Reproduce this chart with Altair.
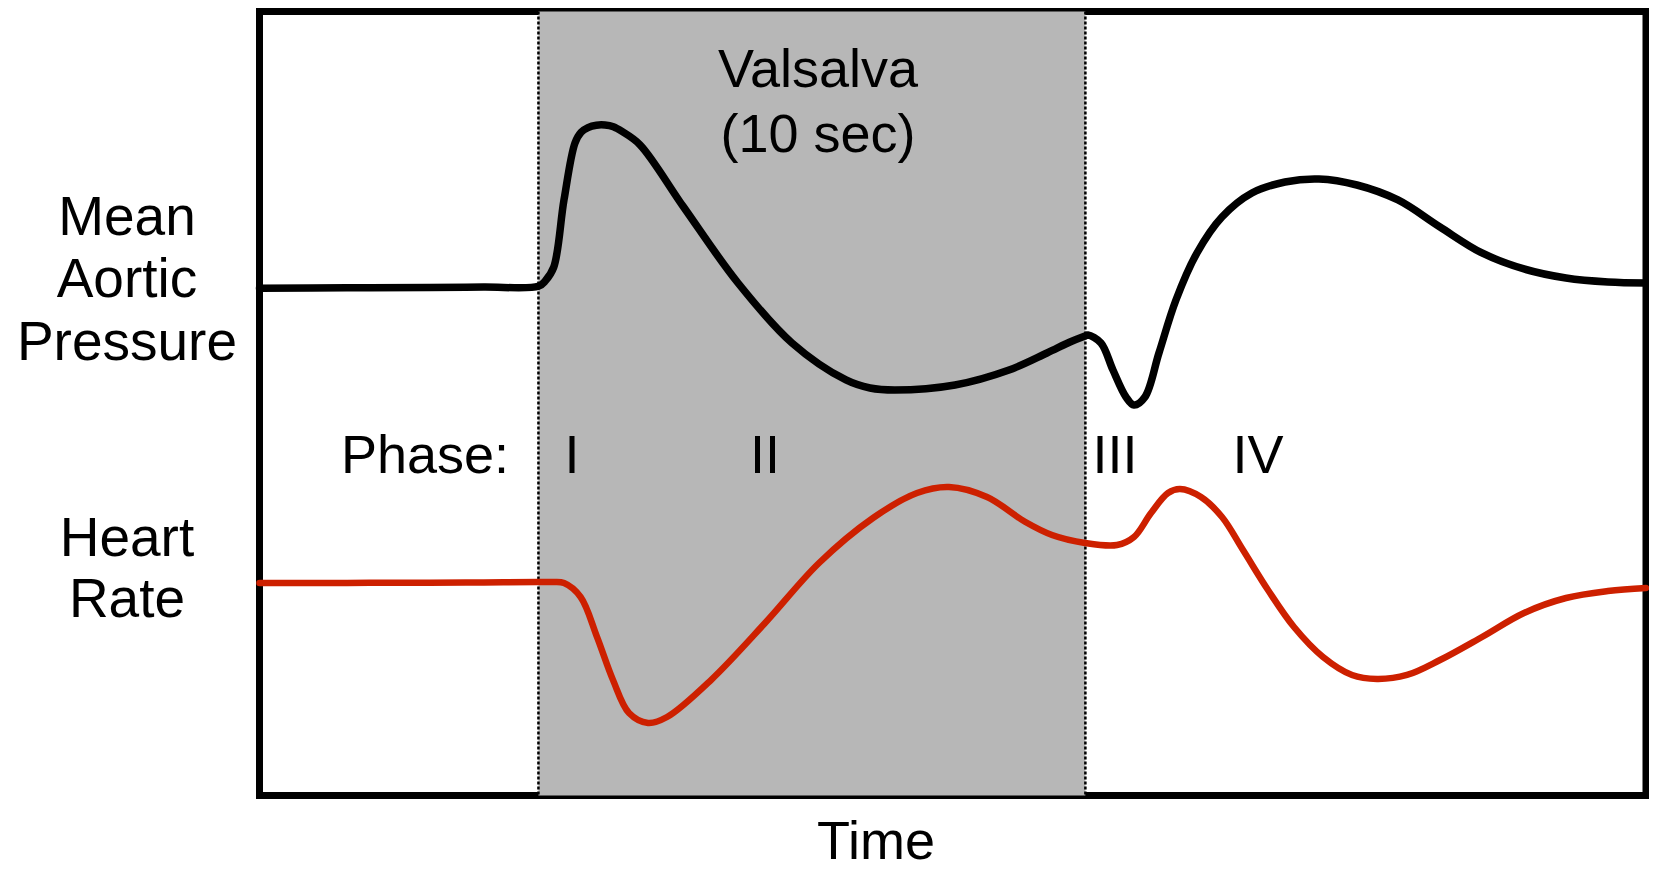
import altair as alt
import pandas as pd

# Time axis in seconds (Valsalva manoeuvre from 0 to 10 s); levels in relative units (0-100)
black_t = [-5.1, -3.5, -2.0, -1.0, 0.0, 0.12, 0.28, 0.467, 0.668, 0.78, 0.906, 1.06, 1.217,
           1.37, 1.528, 1.857, 2.654, 3.649, 4.636, 5.623, 6.062, 6.519, 7.616, 8.604, 9.298,
           9.719, 9.993, 10.047, 10.285, 10.504, 10.742, 10.888, 11.089, 11.345, 11.656,
           12.040, 12.497, 13.045, 13.649, 14.270, 14.965, 15.715, 16.483, 17.251, 18.019,
           18.787, 19.555, 20.25]
black_u = [64.7, 64.75, 64.8, 64.85, 64.95, 65.6, 67.4, 75.96, 83.23, 84.6, 85.2, 85.5, 85.52,
           85.3, 84.7, 83.0, 75.06, 65.37, 57.72, 53.0, 51.98, 51.72, 52.36, 54.27, 56.44,
           57.84, 58.61, 58.74, 57.72, 54.27, 50.83, 49.81, 50.83, 56.44, 63.20,
           69.20, 73.79, 76.85, 78.25, 78.64, 77.87, 75.96, 72.51, 69.20, 67.16,
           66.01, 65.50, 65.37]

red_t = [-5.1, -3.5, -2.0, -1.0, 0.0, 0.25, 0.468, 0.771, 1.071, 1.363, 1.656, 2.003,
         2.351, 3.155, 4.143, 5.130, 6.117, 6.922, 7.507, 8.201, 8.896, 9.390, 9.993, 10.578,
         10.889, 11.200, 11.511, 11.730, 12.114, 12.498, 12.882, 13.339, 13.814, 14.345,
         14.875, 15.332, 15.880, 16.484, 17.252, 18.020, 18.788, 19.555, 20.25]
red_u = [27.1, 27.12, 27.15, 27.18, 27.22, 27.23, 27.1, 25.32, 20.22, 14.73, 10.52, 9.25,
         10.01, 14.73, 22.0, 29.66, 35.40, 38.58, 39.35, 38.07, 34.92, 33.23, 32.21, 31.95,
         32.97, 36.03, 38.58, 39.09, 38.07, 35.52, 31.31, 26.21, 21.49, 17.67,
         15.37, 14.86, 15.37, 17.28, 20.22, 23.28, 25.19, 26.08, 26.47]

valsalva_start = [0.0]
valsalva_end = [10.0]

phase_labels = ["Phase:", "I", "II", "III", "IV"]
phase_t = [-2.074, 0.614, 4.142, 10.541, 13.155]
phase_u = [41.14, 41.14, 41.14, 41.14, 41.14]

title_labels = ["Valsalva", "(10 sec)"]
title_t = [5.112, 5.112]
title_u = [90.37, 82.08]

side_labels = ["Mean", "Aortic", "Pressure", "Heart", "Rate"]
side_t = [-7.523, -7.523, -7.523, -7.523, -7.523]
side_u = [71.49, 63.58, 55.55, 30.55, 22.77]

time_label = ["Time"]
time_t = [6.171]
time_u = [-8.1]

FONT = "Liberation Sans"
xs = alt.Scale(domain=[-5.1, 20.25], nice=False, zero=False)
ys = alt.Scale(domain=[0, 100], nice=False, zero=False)

black_df = pd.DataFrame({"t": black_t, "u": black_u})
red_df = pd.DataFrame({"t": red_t, "u": red_u})
band_df = pd.DataFrame({"t": valsalva_start, "t2": valsalva_end, "u": [0], "u2": [100]})
rule_df = pd.DataFrame({"t": valsalva_start + valsalva_end})
phase_df = pd.DataFrame({"t": phase_t, "u": phase_u, "label": phase_labels})
title_df = pd.DataFrame({"t": title_t, "u": title_u, "label": title_labels})
side_df = pd.DataFrame({"t": side_t, "u": side_u, "label": side_labels})
time_df = pd.DataFrame({"t": time_t, "u": time_u, "label": time_label})

band = alt.Chart(band_df).mark_rect(color="#b7b7b7").encode(
    x=alt.X("t:Q", scale=xs, axis=None), x2="t2:Q",
    y=alt.Y("u:Q", scale=ys, axis=None), y2="u2:Q")

rules = alt.Chart(rule_df).mark_rule(color="black", strokeWidth=2.5, strokeDash=[3, 2]).encode(
    x=alt.X("t:Q", scale=xs, axis=None),
    y=alt.value(0), y2=alt.value(784))

black_line = alt.Chart(black_df).mark_line(
    color="black", strokeWidth=7.5, interpolate="catmull-rom", strokeCap="round").encode(
    x=alt.X("t:Q", scale=xs, axis=None), y=alt.Y("u:Q", scale=ys, axis=None))

red_line = alt.Chart(red_df).mark_line(
    color="#cd2000", strokeWidth=6.5, interpolate="catmull-rom", strokeCap="round").encode(
    x=alt.X("t:Q", scale=xs, axis=None), y=alt.Y("u:Q", scale=ys, axis=None))

def text_layer(df, size):
    return alt.Chart(df).mark_text(
        font=FONT, fontSize=size, color="black", align="center", baseline="alphabetic").encode(
        x=alt.X("t:Q", scale=xs, axis=None), y=alt.Y("u:Q", scale=ys, axis=None),
        text="label:N")

chart = alt.layer(
    band, rules, black_line, red_line,
    text_layer(phase_df, 54), text_layer(title_df, 54),
    text_layer(side_df, 55), text_layer(time_df, 54),
).properties(
    width=1386.5, height=784,
    padding={"left": 251.5, "top": 3.5, "right": 3, "bottom": 75},
    autosize=alt.AutoSizeParams(type="none"),
    background="white",
).configure_view(stroke="black", strokeWidth=7)

chart.save("out.html", embed_options={"renderer": "svg", "actions": False})
